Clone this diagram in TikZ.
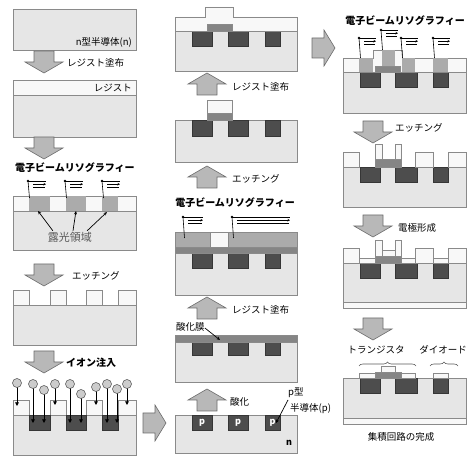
\documentclass[tikz,border=0pt]{standalone}
\usepackage{fontspec}
\setmainfont{Noto Sans CJK JP}
\usetikzlibrary{arrows.meta,decorations.pathreplacing}

\definecolor{subC}{HTML}{E6E6E6}
\definecolor{resC}{HTML}{F8F8F8}
\definecolor{expC}{HTML}{ABABAB}
\definecolor{pC}{HTML}{4D4D4D}
\definecolor{oxC}{HTML}{858585}
\definecolor{edgeC}{HTML}{8A8A8A}
\definecolor{arrC}{HTML}{B8B8B8}

% block arrows: centre x, top (or tip) y
\newcommand\BlkDown[2]{\draw[blk] (#1-10,#2) -- (#1+10,#2) -- (#1+10,#2+11) -- (#1+19,#2+11) -- (#1,#2+22) -- (#1-19,#2+11) -- (#1-10,#2+11) -- cycle;}
\newcommand\BlkUp[2]{\draw[blk] (#1,#2) -- (#1+19,#2+11) -- (#1+10,#2+11) -- (#1+10,#2+22) -- (#1-10,#2+22) -- (#1-10,#2+11) -- (#1-19,#2+11) -- cycle;}
\newcommand\BlkRight[2]{\draw[blk] (#1,#2-10) -- (#1+12,#2-10) -- (#1+12,#2-18) -- (#1+23,#2) -- (#1+12,#2+18) -- (#1+12,#2+10) -- (#1,#2+10) -- cycle;}
% electron beam: dot x, dot y, end x of the sweep lines, foot y
\newcommand\EBeam[4]{%
  \fill[black] (#1,#2) circle (1.3pt);
  \draw[beam] (#1,#2) -- (#1+1.5,#4);
  \draw[beam] (#1,#2) -- (#3,#2);
  \draw[beam,-{Stealth[length=2.5pt,width=2.6pt]}] (#1+5,#2+3.2) -- (#3,#2+3.2);
  \draw[beam] (#1+5,#2+6.2) -- (#3-1,#2+6.2);}

\begin{document}
\begin{tikzpicture}[x=1pt,y=-1pt,
  sub/.style={fill=subC,draw=edgeC,line width=0.6pt},
  res/.style={fill=resC,draw=edgeC,line width=0.6pt},
  expo/.style={fill=expC},
  pdop/.style={fill=pC,draw=pC!70!black,line width=0.4pt},
  oxl/.style={fill=oxC,draw=edgeC,line width=0.5pt},
  metal/.style={fill=resC,draw=edgeC,line width=0.5pt},
  blk/.style={fill=arrC,draw=gray!85!black,line width=0.6pt},
  beam/.style={black,line width=0.6pt},
  ionln/.style={black,line width=0.7pt,-{Triangle[length=3.6pt,width=3.6pt]}},
  ion/.style={fill=gray!40,draw=gray!60!black,line width=0.5pt},
  ptr/.style={black,line width=0.7pt,-{Stealth[length=3.5pt,width=3pt]}},
  lbl/.style={font=\fontsize{9.5}{11}\selectfont,text=black,inner sep=0pt},
  ttl/.style={font=\bfseries\fontsize{10}{12}\selectfont,inner sep=0pt},
  brc/.style={draw=gray!70!black,line width=0.6pt,decorate,decoration={brace,amplitude=4pt}}]
\useasboundingbox (0,0) rectangle (472,457);

%================ left column =================
\begin{scope}[shift={(13,0)}]
  % n-type wafer
  \draw[sub] (0,9) rectangle (123,50);
  \node[lbl,anchor=east] (ntype) at (119,42) {n型半導体(n)};
  % resist coated
  \draw[sub] (0,95) rectangle (123,137);
  \draw[res] (0,80) rectangle (123,95);
  \node[lbl,anchor=east] (reslbl) at (119,88) {レジスト};
  % e-beam exposure
  \node[ttl] (eb1) at (62,168) {電子ビームリソグラフィー};
  \draw[sub] (0,211) rectangle (123,250);
  \draw[res] (0,196) rectangle (123,211);
  \foreach \a/\b in {16/37,53/73,89/105} \fill[expo] (\a,196.3) rectangle (\b,210.7);
  \EBeam{15}{181}{33}{198}
  \EBeam{52}{181}{70}{198}
  \EBeam{89}{181}{107}{198}
  \node[lbl,font=\fontsize{11}{13}\selectfont,text=black!65] (roko) at (57,237) {露光領域};
  \coordinate (x1) at (25,211);
  \coordinate (x2) at (63,211);
  \coordinate (x3) at (94,212);
  \draw[ptr] ([xshift=5pt,yshift=1pt]roko.north west) -- (x1);
  \draw[ptr] ([xshift=3pt,yshift=1pt]roko.north) -- (x2);
  \draw[ptr] ([xshift=-5pt,yshift=1pt]roko.north east) -- (x3);
  % developed resist
  \draw[sub] (0,305) rectangle (123,345);
  \foreach \a/\b in {0/16,37/53,73/89,105/123} \draw[res] (\a,290) rectangle (\b,305);
  % ion implantation
  \draw[sub] (0,415) rectangle (123,455);
  \foreach \a/\b in {0/16,37/53,73/89,105/123} \draw[res] (\a,400) rectangle (\b,415);
  \foreach \a/\b in {16/37,53/73,89/105} \draw[pdop] (\a,415) rectangle (\b,430);
  \foreach \x/\y/\e in {4/383/406,20/384/423,31/390/423,42/384/405,57/384/423,68/394/423,83/387/405,94/384/423,104/389/423,114/384/405}{
    \draw[ionln] (\x,\y+4.5) -- (\x,\e);
    \draw[ion] (\x,\y) circle (4.5pt);}
\end{scope}

\BlkDown{44}{51}
\node[lbl,anchor=west] (a1) at (67,63) {レジスト塗布};
\BlkDown{44}{137}
\BlkDown{44}{264}
\node[lbl,anchor=west] (a3) at (72,276) {エッチング};
\BlkDown{44}{351}
\node[ttl,anchor=west] (a4) at (66,363) {イオン注入};
\BlkRight{143}{423}

%================ middle column =================
\begin{scope}[shift={(175,0)}]
  % resist over gate oxide
  \draw[sub] (0,31) rectangle (122,71);
  \foreach \a/\b in {17/37,53/73,90/105} \draw[pdop] (\a,31) rectangle (\b,46);
  \draw[res] (0,31) -- (0,17) -- (30,17) -- (30,7) -- (58,7) -- (58,17) -- (122,17) -- (122,31) -- cycle;
  \draw[oxl] (32,24) rectangle (57,31);
  % etched oxide with resist cap
  \draw[sub] (0,120) rectangle (122,162);
  \foreach \a/\b in {17/37,53/73,90/105} \draw[pdop] (\a,120) rectangle (\b,136);
  \draw[oxl] (32,113) rectangle (57,120);
  \draw[res] (32,100) rectangle (57,113);
  % e-beam on resist over oxide
  \node[ttl] (eb2) at (60,203) {電子ビームリソグラフィー};
  \draw[sub] (0,253) rectangle (122,295);
  \foreach \a/\b in {17/37,53/73,90/105} \draw[pdop] (\a,253) rectangle (\b,268);
  \draw[oxl] (0,247) rectangle (122,253);
  \draw[res,fill=expC] (0,232) rectangle (122,247);
  \draw[res] (35,232) rectangle (53,247);
  \EBeam{8}{217}{28}{238}
  \EBeam{57}{217}{115}{238}
  % oxidised wafer
  \draw[sub] (0,342) rectangle (122,382);
  \foreach \a/\b in {17/37,53/73,90/105} \draw[pdop] (\a,342) rectangle (\b,355);
  \draw[oxl] (0,335) rectangle (122,342);
  \node[lbl,anchor=west] (oxlbl) at (1,327) {酸化膜};
  \coordinate (ox) at (45,340);
  \draw[ptr] ([yshift=-1pt]oxlbl.east) -- (ox);
  % p regions in n substrate
  \draw[sub] (0,415) rectangle (122,453);
  \foreach \a/\b in {17/37,53/73,90/105}{
    \draw[pdop] (\a,415) rectangle (\b,430);
    \node[font=\bfseries\fontsize{9}{10}\selectfont,text=white,inner sep=0pt] at ({(\a+\b)/2},423) {p};}
  \node[font=\bfseries\fontsize{9}{10}\selectfont,inner sep=0pt] (nlbl) at (114,443) {n};
  \node[lbl,anchor=west] (ptype) at (113,393) {p型};
  \node[lbl,anchor=west] (psemi) at (115,409) {半導体(p)};
  \coordinate (pp) at (101,423);
  \draw[ptr] (113,400) -- (pp);
\end{scope}

\BlkUp{207}{73}
\node[lbl,anchor=west] (b1) at (232,87) {レジスト塗布};
\BlkUp{207}{166}
\node[lbl,anchor=west] (b2) at (232,179) {エッチング};
\BlkUp{207}{297}
\node[lbl,anchor=west] (b3) at (232,310) {レジスト塗布};
\BlkUp{207}{389}
\node[lbl,anchor=west] (b4) at (230,402) {酸化};
\BlkRight{312}{48}

%================ right column =================
\begin{scope}[shift={(343,0)}]
  % e-beam on resist over gate
  \node[ttl] (eb3) at (62,21) {電子ビームリソグラフィー};
  \draw[sub] (0,72) rectangle (123,113);
  \foreach \a/\b in {17/37,52/74,90/105} \draw[pdop] (\a,72) rectangle (\b,87);
  \draw[res] (0,72) -- (0,58) -- (30,58) -- (30,50) -- (59,50) -- (59,58) -- (123,58) -- (123,72) -- cycle;
  \foreach \a/\b in {16/30,59/72,90/105} \fill[expo] (\a,58.3) rectangle (\b,71.7);
  \fill[expo] (39,50.3) rectangle (52,66);
  \draw[oxl] (32,66) rectangle (57,72);
  \EBeam{16}{38}{33}{58}
  \EBeam{38}{30}{55}{50}
  \EBeam{58}{38}{75}{58}
  \EBeam{90}{38}{107}{58}
  % etched
  \draw[sub] (0,167) rectangle (123,207);
  \foreach \a/\b in {17/37,52/74,90/105} \draw[pdop] (\a,167) rectangle (\b,182);
  \foreach \a/\b in {0/16,72/90,105/123} \draw[res] (\a,152) rectangle (\b,167);
  \draw[oxl] (32,159) rectangle (58,167);
  \draw[res] (32,144) rectangle (39,159);
  \draw[res] (52,144) rectangle (58,159);
  % electrodes
  \draw[sub] (0,263) rectangle (123,302);
  \draw[metal] (0,302) rectangle (123,308);
  \foreach \a/\b in {17/37,52/74,90/105} \draw[pdop] (\a,263) rectangle (\b,278);
  \foreach \a/\b in {0/16,72/90,105/123} \draw[res] (\a,248) rectangle (\b,263);
  \foreach \a/\b in {16/32,58/72,90/105} \draw[metal] (\a,258) rectangle (\b,263);
  \draw[oxl] (32,256) rectangle (58,263);
  \draw[res] (32,240) rectangle (39,256);
  \draw[res] (52,240) rectangle (58,256);
  \draw[metal] (39,250) rectangle (52,256);
  % finished circuit
  \node[lbl] (trlbl) at (33,350) {トランジスタ};
  \node[lbl] (dilbl) at (100,350) {ダイオード};
  \draw[brc] (16,366) -- (73,366);
  \draw[brc] (87,366) -- (115,366);
  \draw[sub] (0,378) rectangle (123,418);
  \draw[metal] (0,418) rectangle (123,424);
  \foreach \a/\b in {17/37,52/74,90/105} \draw[pdop] (\a,378) rectangle (\b,393);
  \foreach \a/\b in {16/32,58/72,90/105} \draw[metal] (\a,373) rectangle (\b,378);
  \draw[oxl] (32,372) rectangle (58,378);
  \draw[metal] (38,366) rectangle (52,372);
  \node[lbl] (done) at (58,437) {集積回路の完成};
\end{scope}

\BlkDown{373}{121}
\node[lbl,anchor=west] (c1) at (395,128) {エッチング};
\BlkDown{373}{215}
\node[lbl,anchor=west] (c2) at (398,228) {電極形成};
\BlkDown{373}{318}
\end{tikzpicture}
\end{document}
